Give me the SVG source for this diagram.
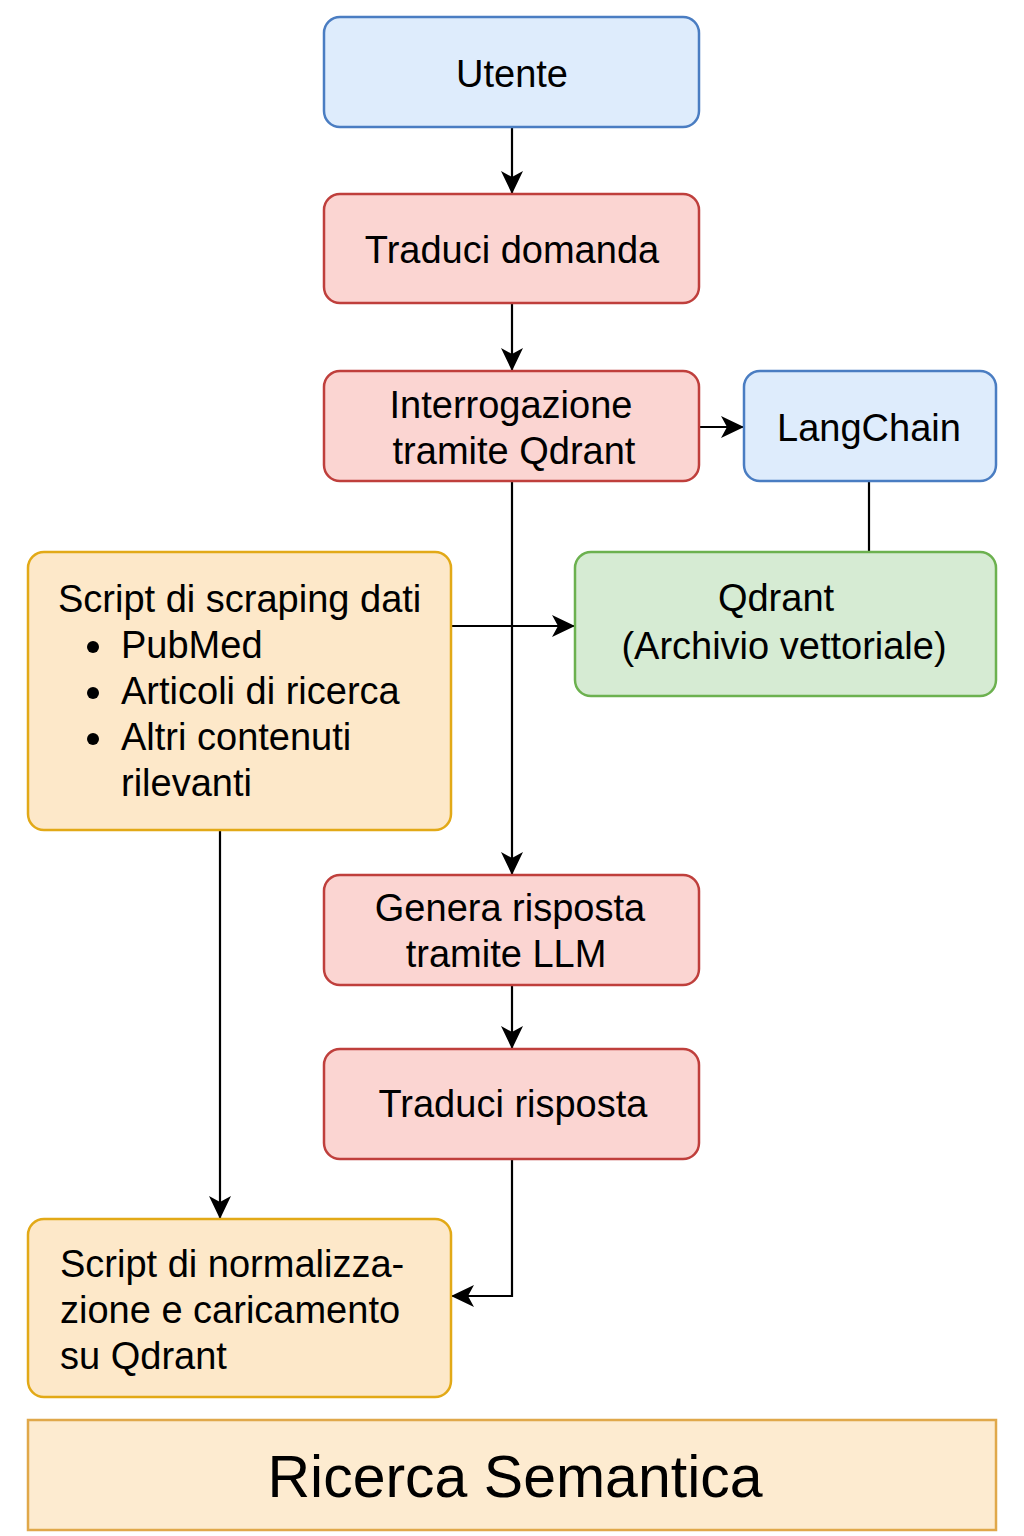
<svg xmlns="http://www.w3.org/2000/svg" width="1024" height="1536" viewBox="0 0 1024 1536">
<style>
text{font-family:"Liberation Sans",Arial,sans-serif;font-size:38px;fill:#000}
.c{text-anchor:middle}
.blue{fill:#deecfc;stroke:#4a7dc2;stroke-width:2.5}
.red{fill:#fbd5d2;stroke:#bf3f3c;stroke-width:2.5}
.green{fill:#d6ebd3;stroke:#6cb14f;stroke-width:2.5}
.orange{fill:#fde8c9;stroke:#e2a917;stroke-width:2.5}
.edge{fill:none;stroke:#000;stroke-width:2.2}
</style>
<defs>
<marker id="arr" markerUnits="userSpaceOnUse" markerWidth="24" markerHeight="24" viewBox="0 0 24 24" refX="22" refY="12" orient="auto">
<path d="M0,1 L23,12 L0,23 L6,12 z" fill="#000"/>
</marker>
</defs>
<rect width="1024" height="1536" fill="#fff"/>
<g id="connectors">
<path class="edge" d="M512,127 V193" marker-end="url(#arr)"/>
<path class="edge" d="M512,303 V370" marker-end="url(#arr)"/>
<path class="edge" d="M699,427 H743" marker-end="url(#arr)"/>
<path class="edge" d="M869,481 V552"/>
<path class="edge" d="M512,481 V874" marker-end="url(#arr)"/>
<path class="edge" d="M451,626 H574" marker-end="url(#arr)"/>
<path class="edge" d="M220,830 V1218" marker-end="url(#arr)"/>
<path class="edge" d="M512,985 V1048" marker-end="url(#arr)"/>
<path class="edge" d="M512,1159 V1296 H452" marker-end="url(#arr)"/>
</g>
<g id="utente">
<rect class="blue" x="324" y="17" width="375" height="110" rx="16"/>
<text class="c" x="512" y="87">Utente</text>
</g>
<g id="traduci-domanda">
<rect class="red" x="324" y="194" width="375" height="109" rx="16"/>
<text class="c" x="512" y="263">Traduci domanda</text>
</g>
<g id="interrogazione">
<rect class="red" x="324" y="371" width="375" height="110" rx="16"/>
<text class="c" x="511" y="418">Interrogazione</text>
<text class="c" x="514" y="464">tramite Qdrant</text>
</g>
<g id="langchain">
<rect class="blue" x="744" y="371" width="252" height="110" rx="16"/>
<text class="c" x="869" y="441">LangChain</text>
</g>
<g id="qdrant">
<rect class="green" x="575" y="552" width="421" height="144" rx="16"/>
<text class="c" x="776" y="611">Qdrant</text>
<text class="c" x="784" y="659">(Archivio vettoriale)</text>
</g>
<g id="scraping">
<rect class="orange" x="28" y="552" width="423" height="278" rx="16"/>
<text x="58" y="612">Script di scraping dati</text>
<circle cx="93" cy="647" r="6"/>
<text x="121" y="658">PubMed</text>
<circle cx="93" cy="693" r="6"/>
<text x="121" y="704">Articoli di ricerca</text>
<circle cx="93" cy="739" r="6"/>
<text x="121" y="750">Altri contenuti</text>
<text x="121" y="796">rilevanti</text>
</g>
<g id="genera">
<rect class="red" x="324" y="875" width="375" height="110" rx="16"/>
<text class="c" x="510" y="921">Genera risposta</text>
<text class="c" x="506" y="967">tramite LLM</text>
</g>
<g id="traduci-risposta">
<rect class="red" x="324" y="1049" width="375" height="110" rx="16"/>
<text class="c" x="513" y="1117">Traduci risposta</text>
</g>
<g id="normalizzazione">
<rect class="orange" x="28" y="1219" width="423" height="178" rx="16"/>
<text x="60" y="1277">Script di normalizza-</text>
<text x="60" y="1323">zione e caricamento</text>
<text x="60" y="1369">su Qdrant</text>
</g>
<g id="titolo">
<rect x="28" y="1420" width="968" height="110" fill="#fdebd0" stroke="#e0a84a" stroke-width="2.5"/>
<text class="c" x="515" y="1497" style="font-size:59px">Ricerca Semantica</text>
</g>
</svg>
